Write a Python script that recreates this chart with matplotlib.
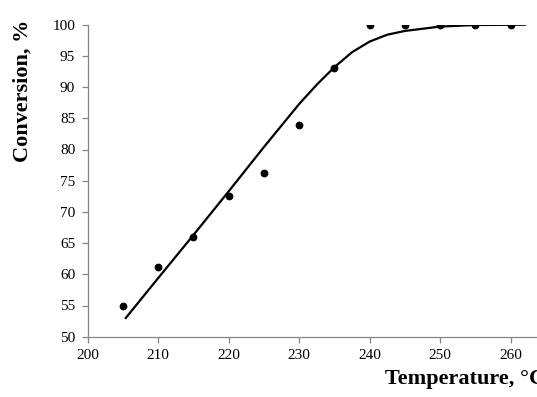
import matplotlib.pyplot as plt

# measured points
temp = [205, 210, 215, 220, 225, 230, 235, 240, 245, 250, 255, 260]
conv = [55.0, 61.2, 66.0, 72.6, 76.3, 83.9, 93.1, 99.9, 99.9, 99.9, 99.9, 99.9]

# fitted curve
fit_t = [205.4, 210, 215, 220, 225, 230, 232.5, 235, 237.5, 240, 242.5, 245, 250, 255, 262]
fit_c = [53.0, 59.4, 66.3, 73.3, 80.4, 87.3, 90.4, 93.2, 95.6, 97.3, 98.4, 99.0, 99.7, 99.95, 100.0]

xticks = [200, 210, 220, 230, 240, 250, 260]
yticks = [50, 55, 60, 65, 70, 75, 80, 85, 90, 95, 100]

plt.rcParams['font.family'] = ['Liberation Serif', 'DejaVu Serif']

fig = plt.figure(figsize=(5.37, 3.97), dpi=100)
# plot area runs past the right edge, as in the cropped original
ax = fig.add_axes([87.7 / 537, 1 - 336.7 / 397, 493.5 / 537, 312 / 397])

ax.plot(fit_t, fit_c, color='black', lw=1.6, zorder=2)
ax.plot(temp, conv, 'o', color='black', ms=4.6, zorder=3)

ax.set_xlim(200, 270)
ax.set_ylim(50, 100)
ax.set_xticks(xticks)
ax.set_yticks(yticks)

for side in ['top', 'right']:
    ax.spines[side].set_visible(False)
for side in ['left', 'bottom']:
    ax.spines[side].set_color('#868686')
    ax.spines[side].set_linewidth(0.9)
ax.tick_params(direction='out', length=4, width=0.9, color='#868686',
               labelsize=11, pad=5)

fig.text(23 / 537, 1 - 91 / 397, 'Conversion, %', rotation=90, ha='center',
         va='center', fontsize=16, fontweight='bold')
fig.text(385 / 537, 1 - 384 / 397, 'Temperature, °C', ha='left', va='baseline',
         fontsize=16, fontweight='bold')

fig.savefig('out.png', dpi=100)
